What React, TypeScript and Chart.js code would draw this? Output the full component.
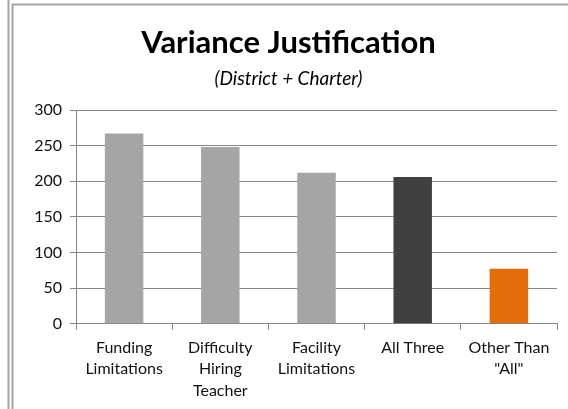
import React, { useEffect, useRef } from "react";
import { Chart, registerables } from "chart.js";

Chart.register(...registerables);

const categories: (string | string[])[] = [
  ["Funding", "Limitations"],
  ["Difficulty", "Hiring", "Teacher"],
  ["Facility", "Limitations"],
  "All Three",
  ["Other Than", '"All"'],
];
const values: number[] = [267, 248, 212, 206, 77];
const barColors: string[] = ["#A5A5A5", "#A5A5A5", "#A5A5A5", "#404040", "#E46C0A"];
const titleText = "Variance Justification";
const subtitleText = "(District + Charter)";
const yMin = 0;
const yMax = 300;
const yStep = 50;

const FONT = "Lato, 'DejaVu Sans', sans-serif";

const framePlugin = {
  id: "frame",
  beforeDraw(chart: any) {
    const ctx = chart.ctx;
    ctx.save();
    ctx.fillStyle = "#ffffff";
    ctx.fillRect(0, 0, chart.width, chart.height);
    ctx.strokeStyle = "#a6a6a6";
    ctx.lineWidth = 2;
    ctx.beginPath();
    ctx.moveTo(8.5, 0);
    ctx.lineTo(8.5, chart.height);
    ctx.moveTo(12.5, chart.height);
    ctx.lineTo(12.5, 4.5);
    ctx.lineTo(chart.width, 4.5);
    ctx.stroke();
    ctx.restore();
  },
};

export default function App() {
  const ref = useRef<HTMLCanvasElement | null>(null);
  useEffect(() => {
    if (!ref.current) return;
    const chart = new Chart(ref.current, {
      type: "bar",
      data: {
        labels: categories,
        datasets: [
          {
            data: values,
            backgroundColor: barColors,
            borderWidth: 0,
            barPercentage: 0.4,
            categoryPercentage: 1,
          },
        ],
      },
      options: {
        responsive: false,
        animation: false,
        layout: { padding: { top: 10, left: 20, right: 11, bottom: 0 } },
        plugins: {
          legend: { display: false },
          tooltip: { enabled: false },
          title: {
            display: true,
            text: titleText,
            color: "#000",
            font: { family: FONT, size: 31, weight: "bold", lineHeight: 1.2 },
            padding: { top: 14, bottom: 1 },
          },
          subtitle: {
            display: true,
            text: subtitleText,
            color: "#000",
            font: { family: FONT, size: 19, style: "italic", lineHeight: 1.2 },
            padding: { top: 5, bottom: 20 },
          },
        },
        scales: {
          x: {
            grid: {
              display: true,
              drawOnChartArea: false,
              drawTicks: true,
              tickLength: 6,
              color: "#868686",
              offset: true,
            },
            border: { display: true, color: "#868686", width: 1 },
            ticks: {
              color: "#111",
              font: { family: FONT, size: 16, lineHeight: 1.32 },
              padding: 8,
              maxRotation: 0,
              autoSkip: false,
            },
          },
          y: {
            min: yMin,
            max: yMax,
            afterFit(scale: any) {
              scale.width = 56;
            },
            grid: {
              color: "#868686",
              tickLength: 6,
              drawTicks: true,
            },
            border: { display: true, color: "#868686", width: 1 },
            ticks: {
              stepSize: yStep,
              color: "#111",
              font: { family: FONT, size: 16 },
              padding: 8,
            },
          },
        },
      },
      plugins: [framePlugin],
    });
    return () => chart.destroy();
  }, []);
  return (
    <div style={{ position: "fixed", left: 0, top: 0, width: 568, height: 409, background: "#fff" }}>
      <canvas ref={ref} width={568} height={409} style={{ display: "block" }} />
    </div>
  );
}
